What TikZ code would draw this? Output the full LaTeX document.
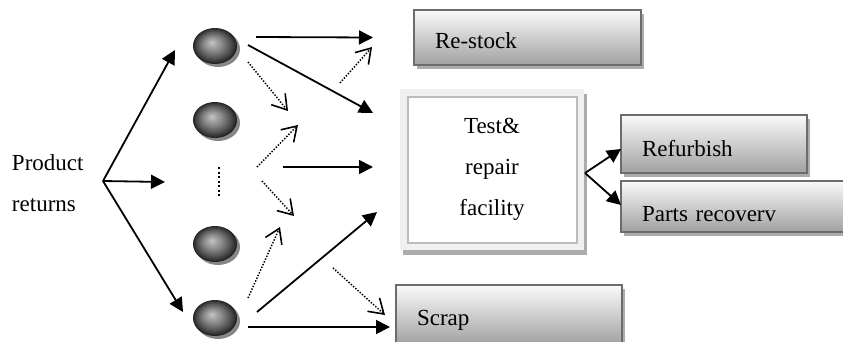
\documentclass[tikz,border=0pt]{standalone}
\usepackage{fontspec}
\setmainfont{Liberation Serif}
\usetikzlibrary{arrows.meta,shadows,shapes.geometric}

\definecolor{edgegray}{RGB}{108,108,108}
\definecolor{shadegray}{RGB}{172,172,172}
\definecolor{frametint}{RGB}{240,240,240}
\definecolor{rimgray}{RGB}{188,188,188}
\definecolor{orbcore}{RGB}{196,196,196}
\definecolor{orbrim}{RGB}{34,34,34}
\definecolor{orbshade}{RGB}{135,135,135}

\begin{document}
\begin{tikzpicture}[x=1pt,y=-1pt,
  every node/.style={font=\fontsize{23}{41}\selectfont, inner sep=0pt, outer sep=0pt},
  % dark disc lit by concentric, progressively lighter ellipses
  orbnode/.style={ellipse, minimum width=44, minimum height=36, fill=orbrim,
    drop shadow={shadow xshift=3pt, shadow yshift=-3pt, fill=orbshade, opacity=1},
    path picture={
      \foreach \k in {1,...,24}{
        \pgfmathsetmacro\r{1-\k/25}
        \pgfmathtruncatemacro\p{100*(\k/24)^0.85}
        \fill[fill={orbcore!\p!orbrim}]
          ([shift={(-3*\k/24,-3*\k/24)}]path picture bounding box.center)
          ellipse ({22*\r} and {18*\r});
      }}},
  boxnode/.style={rectangle, draw=edgegray, line width=2.4pt, top color=gray!4, bottom color=gray!74,
    align=left, text depth=0pt,
    drop shadow={shadow xshift=3pt, shadow yshift=-4pt, fill=shadegray, opacity=1}},
  framenode/.style={rectangle, fill=frametint, align=center,
    drop shadow={shadow xshift=3pt, shadow yshift=-5pt, fill=shadegray, opacity=1},
    path picture={\draw[fill=white, draw=rimgray, line width=2.5pt]
      ([shift={(8,8)}]path picture bounding box.north west) rectangle
      ([shift={(-7,-7)}]path picture bounding box.south east);}},
  solidarrow/.style={-{Triangle[length=14pt,width=14pt]}, line width=1.8pt},
  dotarrow/.style={-{Straight Barb[length=14pt,width=18pt,line width=1.6pt]}, line width=1.5pt,
    dash pattern=on 1.4pt off 1.6pt},
  dotcolumn/.style={line width=1.7pt, dash pattern=on 2pt off 2.5pt}
]
\clip (0,0) rectangle (843,341);

% source label and its fork point
\node[anchor=north west, align=left] (pr) at (12,154.3) {Product\\returns};
\coordinate (split) at (103,181);

% return sources
\node[orbnode] (b1) at (215,46) {};
\node[orbnode] (b2) at (215,120) {};
\node[orbnode] (b3) at (215,244) {};
\node[orbnode] (b4) at (215,318) {};
\coordinate (dtop) at (219,167);
\coordinate (dbot) at (219,198);
\draw[dotcolumn] (dtop) -- (dbot);

% destinations
\node[boxnode, minimum width=227, minimum height=55, text width=185, text height=21pt] (rs) at (527.5,37.5) {Re-stock};
\node[framenode, minimum width=184, minimum height=161] (tr) at (492,169.5) {Test\&\\repair\\facility};
\node[boxnode, minimum width=186, minimum height=58, text width=144, text height=24pt] (rf) at (714,144) {Refurbish};
\node[boxnode, minimum width=229, minimum height=51, text width=187, text height=29pt] (pv) at (735.5,206.5) {Parts recoverv};
\node[boxnode, minimum width=226, minimum height=60, text width=184, text height=20pt] (sc) at (509,315) {Scrap};

% free ends of the intermediate flows
\coordinate (gapmid) at (165,182);
\coordinate (d1) at (288,111);
\coordinate (d2) at (340,83);
\coordinate (m1s) at (257,167);
\coordinate (m1e) at (298,125);
\coordinate (m2s) at (262,181);
\coordinate (m2e) at (294,216);
\coordinate (m3s) at (283,167);
\coordinate (d3) at (280,227);
\coordinate (d4) at (333,268);

% fork from product returns
\draw[solidarrow] (split) -- ([shift={(-18,4)}]b1.west);
\draw[solidarrow] (split) -- (gapmid);
\draw[solidarrow] (split) -- ([shift={(-10,-6)}]b4.west);

% flows from the first source
\draw[solidarrow] ([shift={(19,-9)}]b1.east) -- ([shift={(-41,0)}]rs.west);
\draw[solidarrow] ([shift={(11,-1)}]b1.east) -- ([shift={(-27,24)}]tr.north west);
\draw[dotarrow] ([shift={(11,16)}]b1.east) -- (d1);
\draw[dotarrow] (d2) -- ([shift={(-42,-18)}]rs.south west);

% flows in the middle band
\draw[dotarrow] (m1s) -- (m1e);
\draw[dotarrow] (m2s) -- (m2e);
\draw[solidarrow] (m3s) -- ([shift={(-27,-2.5)}]tr.west);

% flows from the last source
\draw[dotarrow] ([shift={(11,-20)}]b4.east) -- (d3);
\draw[solidarrow] ([shift={(20,-6)}]b4.east) -- ([shift={(-23,-38)}]tr.south west);
\draw[solidarrow] ([shift={(11,9)}]b4.east) -- ([shift={(-6,12)}]sc.west);
\draw[dotarrow] (d4) -- ([shift={(-11,0)}]sc.west);

% outputs of the test and repair facility
\draw[solidarrow] ([shift={(1,3.5)}]tr.east) -- ([shift={(0,5)}]rf.west);
\draw[solidarrow] ([shift={(1,3.5)}]tr.east) -- ([shift={(0,-1.5)}]pv.west);
\end{tikzpicture}
\end{document}
